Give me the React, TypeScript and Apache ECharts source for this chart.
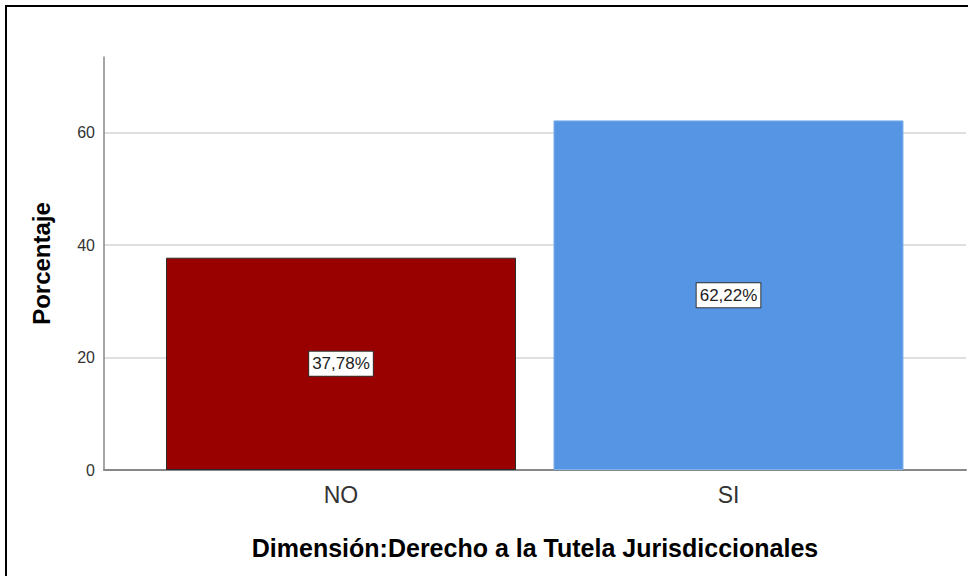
import React, { useEffect, useRef } from "react";
import * as echarts from "echarts";

const categories = ["NO", "SI"];
const percentages = [37.78, 62.22];
const barColors = ["#990000", "#5595E3"];
const barBorders = ["#2a2a2a", "#7fb0ee"];
const yTicks = [0, 20, 40, 60];
const yMax = 73.5;
const xTitle = "Dimensión:Derecho a la Tutela Jurisdiccionales";
const yTitle = "Porcentaje";

const FONT = 'Arial, "Liberation Sans", sans-serif';

export default function App() {
  const ref = useRef<HTMLDivElement>(null);
  useEffect(() => {
    document.body.style.margin = "0";
    if (!ref.current) return;
    const chart = echarts.init(ref.current, undefined, { renderer: "svg" });
    chart.setOption({
      animation: false,
      backgroundColor: "#ffffff",
      grid: { left: 104, right: 2, top: 57, bottom: 106, containLabel: false },
      graphic: [
        { type: "line", shape: { x1: 6, y1: 5, x2: 6, y2: 576 }, style: { stroke: "#000", lineWidth: 2 } },
        { type: "line", shape: { x1: 5, y1: 6, x2: 968, y2: 6 }, style: { stroke: "#000", lineWidth: 2 } },
      ],
      xAxis: {
        type: "value",
        min: -0.6116,
        max: 1.6129,
        name: xTitle,
        nameLocation: "middle",
        nameGap: 65,
        nameTextStyle: { fontFamily: FONT, fontSize: 25, fontWeight: "bold", color: "#000" },
        axisLine: { show: true, onZero: false, lineStyle: { color: "#888", width: 2 } },
        axisTick: { show: false, customValues: [0, 1] },
        splitLine: { show: false },
        axisLabel: {
          customValues: [0, 1],
          formatter: (v: number) => categories[Math.round(v)] ?? "",
          fontFamily: FONT,
          fontSize: 23,
          color: "#333",
          margin: 13,
        },
      },
      yAxis: {
        type: "value",
        min: 0,
        max: yMax,
        name: yTitle,
        nameLocation: "middle",
        nameGap: 51,
        nameRotate: 90,
        nameTextStyle: { fontFamily: FONT, fontSize: 24, fontWeight: "bold", color: "#000" },
        axisLine: { show: true, onZero: false, lineStyle: { color: "#888", width: 1.5 } },
        axisTick: { show: false, customValues: yTicks },
        splitLine: { show: true, lineStyle: { color: "#d4d4d4", width: 1.5 } },
        axisLabel: {
          customValues: yTicks,
          fontFamily: FONT,
          fontSize: 16,
          color: "#333",
          margin: 9,
        },
      },
      series: [
        {
          type: "bar",
          barWidth: 350,
          data: percentages.map((v, i) => ({
            value: [i, v],
            itemStyle: { color: barColors[i], borderColor: barBorders[i], borderWidth: 1 },
          })),
          label: {
            show: true,
            position: "inside",
            formatter: (p: any) => p.value[1].toFixed(2).replace(".", ",") + "%",
            fontFamily: FONT,
            fontSize: 17,
            color: "#222",
            backgroundColor: "#ffffff",
            borderColor: "#333",
            borderWidth: 1,
            padding: [4, 3, 3, 3],
          },
        },
      ],
    });
    return () => chart.dispose();
  }, []);
  return (
    <div
      ref={ref}
      style={{ position: "fixed", left: 0, top: 0, width: 968, height: 576 }}
    />
  );
}
